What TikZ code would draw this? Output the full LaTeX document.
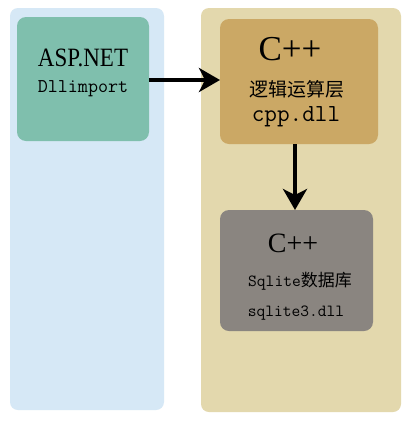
\documentclass[tikz,border=0pt]{standalone}
\usepackage{fontspec}
\setmainfont{Liberation Serif}
\newfontfamily\cjk{Noto Sans CJK SC}
\usetikzlibrary{arrows.meta}
\definecolor{panelblue}{HTML}{D6E8F6}
\definecolor{paneltan}{HTML}{E3D8AD}
\definecolor{boxgreen}{HTML}{7FBFAD}
\definecolor{boxgold}{HTML}{CBA865}
\definecolor{boxgray}{HTML}{8A8580}
\begin{document}
\begin{tikzpicture}[x=1pt,y=-1pt,
  panel/.style={rounded corners=8pt},
  card/.style={rounded corners=9pt},
  conn/.style={line width=4pt,-{Stealth[length=21pt,width=24pt,inset=6pt]}},
  lbl/.style={inner sep=0pt,anchor=center}]
\useasboundingbox (0,0) rectangle (411,424);
\fill[white] (0,0) rectangle (411,424);
\fill[panelblue,panel] (10,8) rectangle (164,410);
\fill[paneltan,panel] (201,8) rectangle (401,412);
\fill[boxgreen,card] (17,17) rectangle (149,141);
\fill[boxgold,card] (220,19) rectangle (378,144);
\fill[boxgray,card] (220,210) rectangle (373,331);
\coordinate (a) at (149,80);
\coordinate (b) at (220,80);
\coordinate (c) at (295,144);
\coordinate (d) at (295,210);
\node[lbl,font=\fontsize{23}{25}\selectfont,yscale=1.15] (t1) at (83,58) {ASP.NET};
\node[lbl,font=\ttfamily\fontsize{19.5}{21}\selectfont] (t2) at (83,89) {Dllimport};
\node[lbl,font=\fontsize{35}{38}\selectfont] (t3) at (290,49) {C++};
\node[lbl,font=\cjk\fontsize{19}{21}\selectfont] (t4) at (297,89) {逻辑运算层};
\node[lbl,font=\ttfamily\fontsize{24.5}{26}\selectfont] (t5) at (296,117) {cpp.dll};
\node[lbl,font=\fontsize{28}{30}\selectfont] (t6) at (293,243) {C++};
\node[lbl,font=\fontsize{17}{20}\selectfont] (t7) at (300,281) {{\ttfamily Sqlite}{\cjk 数据库}};
\node[lbl,font=\ttfamily\fontsize{17}{20}\selectfont] (t8) at (296,313) {sqlite3.dll};
\draw[conn] (a) -- (b);
\draw[conn] (c) -- (d);
\end{tikzpicture}
\end{document}
